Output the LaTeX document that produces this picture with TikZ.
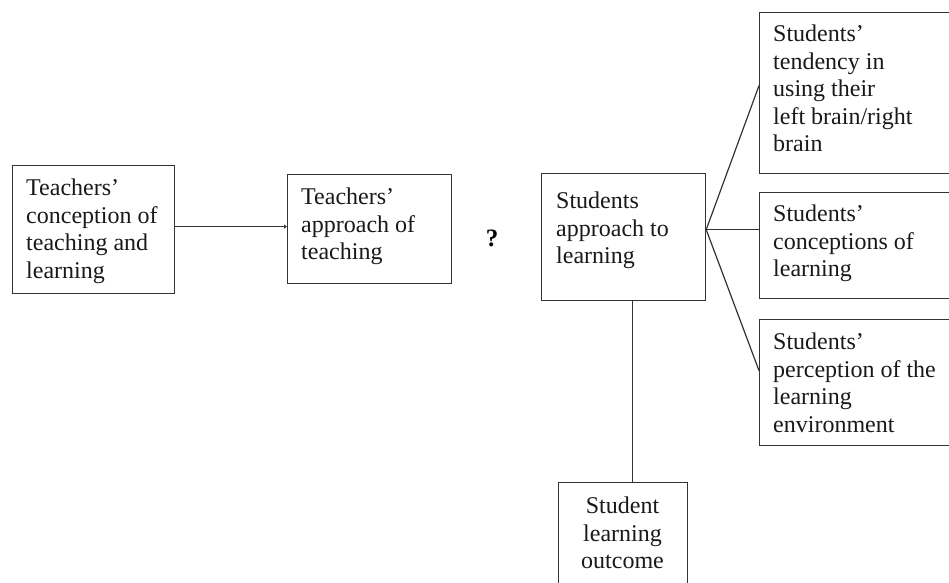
\documentclass[tikz,border=0pt]{standalone}
\usepackage{fontspec}
\setmainfont{Liberation Serif}
\usetikzlibrary{arrows.meta}
\begin{document}
\begin{tikzpicture}[x=1pt,y=-1pt,
  box/.style={draw=black!80,line width=1.2pt,rectangle,inner sep=0pt,anchor=north west},
  boxtext/.style={anchor=north west,inner sep=0pt,align=left,
    font=\fontsize{24}{27.5}\selectfont,text=black!90},
  link/.style={draw=black!80,line width=1.2pt}]
\useasboundingbox (0,0) rectangle (949,582);
\clip (0,0) rectangle (949,582);

% frames
\node[box,minimum width=162pt,minimum height=128pt] (b1) at (12,165) {};
\node[box,minimum width=164pt,minimum height=109pt] (b2) at (287,174) {};
\node[box,minimum width=164pt,minimum height=127pt] (b3) at (541,173) {};
\node[box,minimum width=210pt,minimum height=161pt] (b4) at (759,12) {};
\node[box,minimum width=210pt,minimum height=106pt] (b5) at (759,192) {};
\node[box,minimum width=210pt,minimum height=126pt] (b6) at (759,319) {};
\node[box,minimum width=129pt,minimum height=118pt] (b7) at (558,482) {};

% texts
\node[boxtext] (t1) at (26,179) {Teachers'\\conception of\\teaching and\\learning};
\node[boxtext] (t2) at (301,188) {Teachers'\\approach of\\teaching};
\node[boxtext] (t3) at (556,192) {Students\\approach to\\learning};
\node[boxtext] (t4) at (773,25) {Students'\\tendency in\\using their\\left brain/right\\brain};
\node[boxtext] (t5) at (773,205) {Students'\\conceptions of\\learning};
\node[boxtext] (t6) at (773,333) {Students'\\perception of the\\learning\\environment};
\node[boxtext,anchor=north,align=center] (t7) at (622.5,497) {Student\\learning\\outcome};

\node[inner sep=0pt,font=\bfseries\fontsize{25}{25}\selectfont] (q) at (492,238) {?};

% connectors
\draw[link,-{Latex[length=3pt,width=5pt]}] ([yshift=3pt]b1.east) -- ([yshift=3pt]b1.east -| b2.west);
\coordinate (j) at ([yshift=7.5pt]b3.east);
\draw[link] (j) -- ([yshift=7.5pt]b4.west);
\draw[link] (j) -- (j -| b5.west);
\draw[link] (j) -- ([yshift=12pt]b6.west);
\draw[link] ([xshift=9pt]b3.south) -- ([xshift=9pt]b3.south |- b7.north);
\end{tikzpicture}
\end{document}
